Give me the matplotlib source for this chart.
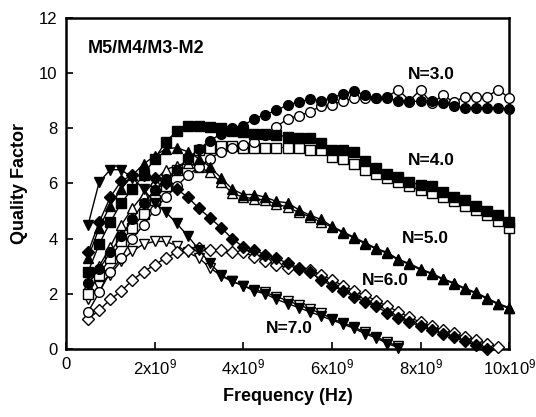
import matplotlib.pyplot as plt

plt.rcParams['font.family'] = ['Liberation Sans', 'DejaVu Sans']
plt.rcParams['mathtext.default'] = 'regular'

# Frequency grid in GHz
freq_ghz = [0.5, 0.75, 1.0, 1.25, 1.5, 1.75, 2.0, 2.25, 2.5, 2.75,
            3.0, 3.25, 3.5, 3.75, 4.0, 4.25, 4.5, 4.75, 5.0, 5.25,
            5.5, 5.75, 6.0, 6.25, 6.5, 6.75, 7.0, 7.25, 7.5, 7.75,
            8.0, 8.25, 8.5, 8.75, 9.0, 9.25, 9.5, 9.75, 10.0]

# Quality factor series (filled / open markers for each N)
q_n3_filled = [2.4, 2.9, 3.5, 4.1, 4.7, 5.3, 5.75, 6.15, 6.5, 6.9,
               7.25, 7.55, 7.8, 8.0, 8.1, 8.35, 8.5, 8.65, 8.85, 8.95,
               9.05, 9.0, 9.1, 9.25, 9.35, 9.2, 9.1, 9.1, 9.0, 8.95,
               9.0, 9.0, 8.9, 8.8, 8.75, 8.75, 8.75, 8.75, 8.7]
q_n3_open = [1.35, 2.05, 2.8, 3.3, 4.0, 4.5, 5.05, 5.5, 5.9, 6.3,
             6.6, 6.9, 7.15, 7.3, 7.4, 7.5, 7.75, 8.05, 8.35, 8.45,
             8.6, 8.8, 8.85, 9.0, 9.1, 9.1, 9.1, 9.15, 9.4, 9.0,
             9.4, 8.9, 9.2, 8.95, 9.15, 9.15, 9.15, 9.4, 9.1]
q_n4_filled = [2.8, 3.8, 4.6, 5.3, 5.8, 6.3, 6.9, 7.5, 7.9, 8.1,
               8.1, 8.05, 8.0, 7.9, 7.85, 7.8, 7.8, 7.75, 7.7, 7.65,
               7.65, 7.45, 7.2, 7.2, 7.15, 6.8, 6.55, 6.35, 6.25, 6.05,
               5.95, 5.9, 5.7, 5.5, 5.4, 5.2, 5.0, 4.85, 4.6]
q_n4_open = [2.0, 2.7, 3.3, 3.9, 4.4, 4.9, 5.4, 5.9, 6.5, 6.9,
             7.2, 7.3, 7.35, 7.35, 7.3, 7.3, 7.3, 7.3, 7.3, 7.3,
             7.2, 7.2, 6.95, 6.9, 6.7, 6.5, 6.35, 6.2, 6.05, 5.9,
             5.75, 5.65, 5.5, 5.35, 5.2, 5.05, 4.85, 4.65, 4.4]
q_n5_filled = [3.3, 4.4, 5.2, 5.8, 6.3, 6.7, 7.0, 7.25, 7.3, 7.15,
               6.9, 6.6, 6.2, 5.8, 5.6, 5.6, 5.5, 5.35, 5.3, 5.05,
               4.85, 4.7, 4.45, 4.25, 4.05, 3.85, 3.65, 3.5, 3.25, 3.1,
               2.9, 2.75, 2.55, 2.4, 2.2, 2.05, 1.85, 1.65, 1.5]
q_n5_open = [2.3, 3.0, 3.7, 4.5, 5.1, 5.6, 6.1, 6.5, 6.65, 6.75,
             6.6, 6.4, 6.05, 5.65, 5.5, 5.45, 5.4, 5.25, 5.15, 4.95,
             4.8, 4.6, 4.42, 4.22, 4.02, 3.82, 3.62, 3.47, 3.22, 3.07,
             2.87, 2.72, 2.52, 2.37, 2.17, 2.02, 1.82, 1.62, 1.47]
q_n6_filled = [3.5, 4.6, 5.5, 6.1, 6.3, 6.3, 6.2, 6.0, 5.8, 5.5,
               5.1, 4.75, 4.4, 4.0, 3.7, 3.6, 3.4, 3.3, 3.1, 2.95,
               2.8, 2.5, 2.3, 2.1, 1.9, 1.7, 1.55, 1.3, 1.12, 0.98,
               0.83, 0.69, 0.56, 0.43, 0.28, 0.14, 0.0]
q_n6_open = [1.1, 1.4, 1.8, 2.1, 2.5, 2.8, 3.05, 3.3, 3.5, 3.6,
             3.65, 3.6, 3.6, 3.5, 3.5, 3.35, 3.2, 3.05, 2.95, 2.9,
             2.85, 2.7, 2.5, 2.3, 2.1, 1.95, 1.75, 1.55, 1.35, 1.15,
             0.97, 0.82, 0.7, 0.57, 0.45, 0.33, 0.2, 0.07]
q_n7_filled = [4.5, 6.05, 6.5, 6.5, 6.2, 5.8, 5.3, 4.97, 4.55, 4.1,
               3.6, 3.1, 2.7, 2.45, 2.3, 2.1, 2.0, 1.8, 1.65, 1.5,
               1.35, 1.2, 1.05, 0.9, 0.75, 0.55, 0.4, 0.2, 0.05]
q_n7_open = [1.8, 2.3, 2.7, 3.2, 3.55, 3.8, 3.9, 3.9, 3.75, 3.5,
             3.3, 2.95, 2.65, 2.45, 2.3, 2.15, 2.05, 1.9, 1.75, 1.6,
             1.45, 1.3, 1.1, 0.95, 0.8, 0.6, 0.45, 0.25, 0.1]

curve_labels = ['N=3.0', 'N=4.0', 'N=5.0', 'N=6.0', 'N=7.0']
label_pos = [(8.25, 9.95), (8.25, 6.85), (8.1, 4.0), (7.2, 2.5), (5.05, 0.75)]

x_ticks = [0, 2, 4, 6, 8, 10]
x_tick_labels = ['0', '2x10$^9$', '4x10$^9$', '6x10$^9$', '8x10$^9$', '10x10$^9$']

fig = plt.figure(figsize=(5.36, 4.17), dpi=100)
ax = fig.add_axes([0.123, 0.163, 0.827, 0.794])

series = [
    (q_n7_open, 'v', 'white', 7),
    (q_n6_open, 'D', 'white', 6),
    (q_n5_open, '^', 'white', 7),
    (q_n4_open, 's', 'white', 6.5),
    (q_n3_open, 'o', 'white', 7),
    (q_n7_filled, 'v', 'black', 7),
    (q_n6_filled, 'D', 'black', 6),
    (q_n5_filled, '^', 'black', 7),
    (q_n4_filled, 's', 'black', 6.5),
    (q_n3_filled, 'o', 'black', 7),
]
for q, mk, face, ms in series:
    f = freq_ghz[:len(q)]
    ax.plot(f, q, color='black', lw=1, marker=mk, ms=ms,
            mfc=face, mec='black', mew=1, clip_on=False, zorder=3)

for txt, (xp, yp) in zip(curve_labels, label_pos):
    ax.text(xp, yp, txt, ha='center', va='center', fontsize=12.5, fontweight='bold')

ax.text(0.5, 10.9, 'M5/M4/M3-M2', ha='left', va='center', fontsize=13, fontweight='bold')

ax.set_xlim(0, 10)
ax.set_ylim(0, 12)
ax.set_xticks(x_ticks)
ax.set_xticklabels(x_tick_labels)
ax.set_yticks(range(0, 13, 2))
ax.tick_params(direction='in', length=5, width=1.2, labelsize=12, pad=6)
for sp in ax.spines.values():
    sp.set_linewidth(1.8)

ax.set_xlabel('Frequency (Hz)', fontsize=13, fontweight='bold', labelpad=8)
ax.set_ylabel('Quality Factor', fontsize=13, fontweight='bold', labelpad=8)

fig.savefig('out.png', dpi=100)
